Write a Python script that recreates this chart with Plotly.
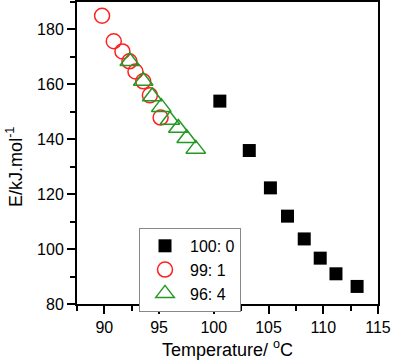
import plotly.graph_objects as go

# Data
t_100_0 = [100.55, 103.24, 105.17, 106.73, 108.26, 109.72, 111.16, 113.09]
e_100_0 = [153.9, 135.9, 122.3, 112.0, 103.7, 96.7, 91.0, 86.4]

t_99_1 = [89.79, 90.86, 91.65, 92.29, 92.84, 93.55, 94.16, 95.14]
e_99_1 = [185.0, 175.7, 172.0, 168.4, 164.7, 161.1, 156.0, 147.9]

t_96_4 = [92.32, 93.55, 94.37, 95.2, 95.99, 96.76, 97.52, 98.35]
e_96_4 = [168.4, 161.2, 155.6, 151.7, 147.0, 144.1, 140.4, 136.5]

names = ["100: 0", "99: 1", "96: 4"]
x_ticks = [90, 95, 100, 105, 110, 115]
y_ticks = [80, 100, 120, 140, 160, 180]

fig = go.Figure()
fig.add_trace(go.Scatter(x=t_100_0, y=e_100_0, mode="markers", name=names[0],
                         marker=dict(symbol="square", size=13, color="black",
                                     line=dict(width=0))))
fig.add_trace(go.Scatter(x=t_99_1, y=e_99_1, mode="markers", name=names[1],
                         marker=dict(symbol="circle-open", size=15, color="#ff2020",
                                     line=dict(width=1.5, color="#ff2020"))))
fig.add_trace(go.Scatter(x=t_96_4, y=e_96_4, mode="markers", name=names[2],
                         marker=dict(symbol="triangle-up-open", size=17, color="#229922",
                                     line=dict(width=1.5, color="#229922"))))

font_family = "Liberation Sans, Arial, sans-serif"
axis_common = dict(showline=True, linecolor="black", linewidth=2, mirror=True,
                   ticks="outside", ticklen=8, tickwidth=1.5, tickcolor="black",
                   showgrid=False, zeroline=False, automargin=False,
                   tickfont=dict(family=font_family, size=16, color="black"))

fig.update_xaxes(range=[87.5, 115], tickvals=x_ticks,
                 minor=dict(ticks="outside", ticklen=5, tickwidth=1.5,
                            tickcolor="black", dtick=2.5, tick0=87.5),
                 **axis_common)
fig.update_yaxes(range=[80, 190], tickvals=y_ticks,
                 minor=dict(ticks="outside", ticklen=5, tickwidth=1.5,
                            tickcolor="black", dtick=10, tick0=80),
                 **axis_common)

fig.add_annotation(text="Temperature/ <sup>o</sup>C", xref="paper", yref="paper",
                   x=0.5, y=-0.149, xanchor="center", yanchor="middle",
                   showarrow=False,
                   font=dict(family=font_family, size=18, color="black"))
fig.add_annotation(text="E/kJ.mol<sup>-1</sup>", xref="paper", yref="paper",
                   x=-0.206, y=0.454, xanchor="center", yanchor="middle",
                   textangle=-90, showarrow=False,
                   font=dict(family=font_family, size=18, color="black"))

fig.update_layout(
    width=394, height=364,
    margin=dict(l=77, r=16, t=2, b=60),
    plot_bgcolor="white", paper_bgcolor="white",
    legend=dict(x=0.206, y=0.252, xanchor="left", yanchor="top",
                bordercolor="#888888", borderwidth=1, bgcolor="white",
                font=dict(family=font_family, size=16, color="black"),
                itemwidth=40, tracegroupgap=0),
    showlegend=True,
)

fig.write_html("out.html", config={"displayModeBar": False},
               post_script="document.body.style.margin='0';document.body.style.padding='0';")
